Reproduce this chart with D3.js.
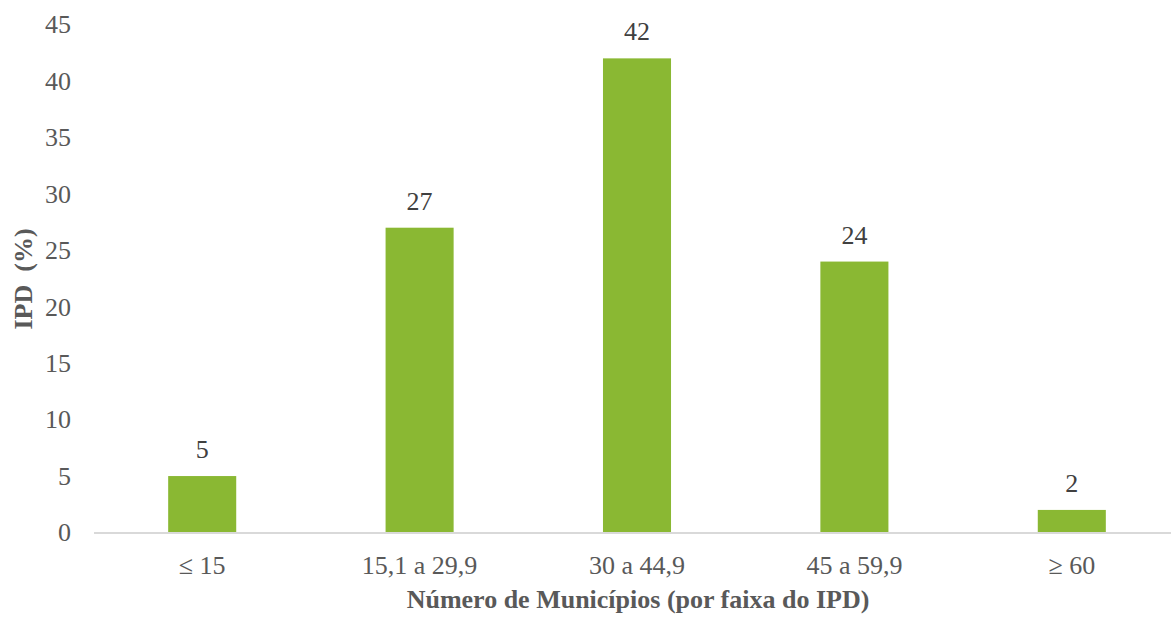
<!DOCTYPE html>
<html><head><meta charset="utf-8">
<script src="https://cdn.jsdelivr.net/npm/d3@7"></script>
<style>body{margin:0;background:#fff}svg{display:block}</style>
</head><body><svg id="c" width="1171" height="617"></svg>
<script>
const categories = ["\u2264 15", "15,1 a 29,9", "30 a 44,9", "45 a 59,9", "\u2265 60"];
const values = [5, 27, 42, 24, 2];
const yTicks = [0, 5, 10, 15, 20, 25, 30, 35, 40, 45];
const xTitle = "Número de Municípios (por faixa do IPD)";
const yTitle = "IPD  (%)";

const FONT = "'Liberation Serif'";
const FS = 26;
const svg = d3.select("#c").attr("font-family", FONT);
const x = d3.scaleBand().domain(categories).range([93.5, 1180.5]).paddingInner(0.687).paddingOuter(0.3435);
const y = d3.scaleLinear().domain([0, 45]).range([532.5, 24.5]);

svg.append("g").selectAll("text").data(yTicks).join("text")
  .attr("x", 71).attr("y", d => y(d)).attr("dy", "0.34em")
  .attr("text-anchor", "end").attr("font-size", FS).attr("fill", "#595959")
  .attr("font-family", FONT)
  .text(d => d);

svg.append("g").selectAll("rect").data(values).join("rect")
  .attr("x", (d, i) => x(categories[i])).attr("width", x.bandwidth())
  .attr("y", d => y(d)).attr("height", d => y(0) - y(d))
  .attr("fill", "#8AB833");

const xAxis = d3.axisBottom(x).tickSize(0).tickPadding(23);
const gx = svg.append("g").attr("transform", `translate(0,${y(0)})`).call(xAxis)
  .attr("font-family", FONT);
gx.select(".domain").attr("stroke", "#D9D9D9").attr("stroke-width", 2);
gx.selectAll("text").attr("font-size", FS).attr("fill", "#595959").attr("font-family", FONT);

svg.append("g").selectAll("text").data(values).join("text")
  .attr("x", (d, i) => x(categories[i]) + x.bandwidth() / 2)
  .attr("y", d => y(d) - 18)
  .attr("text-anchor", "middle").attr("font-size", FS).attr("fill", "#404040")
  .attr("font-family", FONT)
  .text(d => d);

svg.append("text").attr("x", 638).attr("y", 608).attr("text-anchor", "middle")
  .attr("font-family", FONT)
  .attr("font-size", FS).attr("font-weight", "bold").attr("fill", "#595959").text(xTitle);
svg.append("text").attr("transform", "translate(32,279) rotate(-90)").attr("text-anchor", "middle")
  .attr("font-family", FONT)
  .attr("font-size", FS).attr("font-weight", "bold").attr("fill", "#595959")
  .style("white-space", "pre").text(yTitle);
</script></body></html>
